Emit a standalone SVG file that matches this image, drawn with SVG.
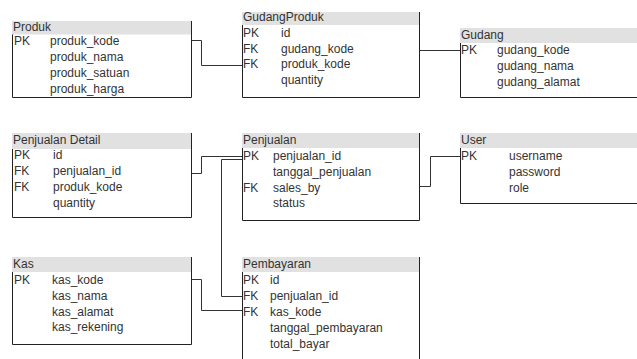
<svg xmlns="http://www.w3.org/2000/svg" width="637" height="359" viewBox="0 0 637 359">
<style>
.hdr{fill:#e1e1e1;stroke:none}
.brd{fill:none;stroke:#222;stroke-width:1}
.t{font-family:"Liberation Sans",Arial,sans-serif;font-size:12px;fill:#333}
.con{fill:none;stroke:#333;stroke-width:1}
</style>
<rect width="637" height="359" fill="#fff"/>
<g id="produk">
<rect class="hdr" x="12" y="21" width="180" height="13.5"/>
<path class="brd" d="M12.5 34.5V97.5H191.5V21"/>
<text class="t" x="13" y="31">Produk</text>
<text class="t" x="14" y="45">PK</text>
<text class="t" x="50" y="45">produk_kode</text>
<text class="t" x="50" y="61">produk_nama</text>
<text class="t" x="50" y="77">produk_satuan</text>
<text class="t" x="50" y="93">produk_harga</text>
</g>
<g id="gudangproduk">
<rect class="hdr" x="242" y="12" width="178" height="13"/>
<path class="brd" d="M242.5 25V97.5H419.5V12"/>
<text class="t" x="243" y="21">GudangProduk</text>
<text class="t" x="243" y="36.5">PK</text>
<text class="t" x="281" y="36.5">id</text>
<text class="t" x="243" y="52.5">FK</text>
<text class="t" x="281" y="52.5">gudang_kode</text>
<text class="t" x="243" y="68">FK</text>
<text class="t" x="281" y="68">produk_kode</text>
<text class="t" x="281" y="84">quantity</text>
</g>
<g id="gudang">
<rect class="hdr" x="460" y="28" width="180" height="15"/>
<path class="brd" d="M460.5 43V97.5H640"/>
<text class="t" x="461" y="38.5">Gudang</text>
<text class="t" x="461" y="53.5">PK</text>
<text class="t" x="497" y="53.5">gudang_kode</text>
<text class="t" x="497" y="69.5">gudang_nama</text>
<text class="t" x="497" y="85.5">gudang_alamat</text>
</g>
<g id="penjualan-detail">
<rect class="hdr" x="12" y="133" width="180" height="16"/>
<path class="brd" d="M12.5 149V217.5H191.5V133"/>
<text class="t" x="13" y="144">Penjualan Detail</text>
<text class="t" x="14" y="159">PK</text>
<text class="t" x="53" y="159">id</text>
<text class="t" x="14" y="175">FK</text>
<text class="t" x="53" y="175">penjualan_id</text>
<text class="t" x="14" y="191">FK</text>
<text class="t" x="53" y="191">produk_kode</text>
<text class="t" x="53" y="207">quantity</text>
</g>
<g id="penjualan">
<rect class="hdr" x="242" y="133" width="178" height="15"/>
<path class="brd" d="M242.5 148V220.5H419.5V133"/>
<text class="t" x="243" y="144">Penjualan</text>
<text class="t" x="243" y="160">PK</text>
<text class="t" x="273" y="160">penjualan_id</text>
<text class="t" x="273" y="175.5">tanggal_penjualan</text>
<text class="t" x="243" y="191.5">FK</text>
<text class="t" x="273" y="191.5">sales_by</text>
<text class="t" x="273" y="207">status</text>
</g>
<g id="user">
<rect class="hdr" x="460" y="133" width="180" height="15"/>
<path class="brd" d="M460.5 148V203.5H640"/>
<text class="t" x="461" y="144">User</text>
<text class="t" x="461" y="160">PK</text>
<text class="t" x="509" y="160">username</text>
<text class="t" x="509" y="176">password</text>
<text class="t" x="509" y="191.5">role</text>
</g>
<g id="kas">
<rect class="hdr" x="12" y="257" width="180" height="15"/>
<path class="brd" d="M12.5 272V344.5H191.5V257"/>
<text class="t" x="13" y="268">Kas</text>
<text class="t" x="14" y="284">PK</text>
<text class="t" x="52" y="284">kas_kode</text>
<text class="t" x="52" y="300">kas_nama</text>
<text class="t" x="52" y="315.5">kas_alamat</text>
<text class="t" x="52" y="331">kas_rekening</text>
</g>
<g id="pembayaran">
<rect class="hdr" x="242" y="257" width="178" height="15"/>
<path class="brd" d="M242.5 272V362M419.5 257V362"/>
<text class="t" x="243" y="268">Pembayaran</text>
<text class="t" x="243" y="284">PK</text>
<text class="t" x="270" y="284">id</text>
<text class="t" x="243" y="299.5">FK</text>
<text class="t" x="270" y="299.5">penjualan_id</text>
<text class="t" x="243" y="315.5">FK</text>
<text class="t" x="270" y="315.5">kas_kode</text>
<text class="t" x="270" y="332">tanggal_pembayaran</text>
<text class="t" x="270" y="347.5">total_bayar</text>
</g>
<g id="connectors">
<path class="con" d="M192 40.5H201.5V65.5H242"/>
<path class="con" d="M420 50.5H460"/>
<path class="con" d="M192 173.5H201.5V156.5H242"/>
<path class="con" d="M242 159.5H221.5V296.5H242"/>
<path class="con" d="M420 186.5H430.5V156.5H460"/>
<path class="con" d="M192 279.5H201.5V310.5H242"/>
</g>
</svg>
